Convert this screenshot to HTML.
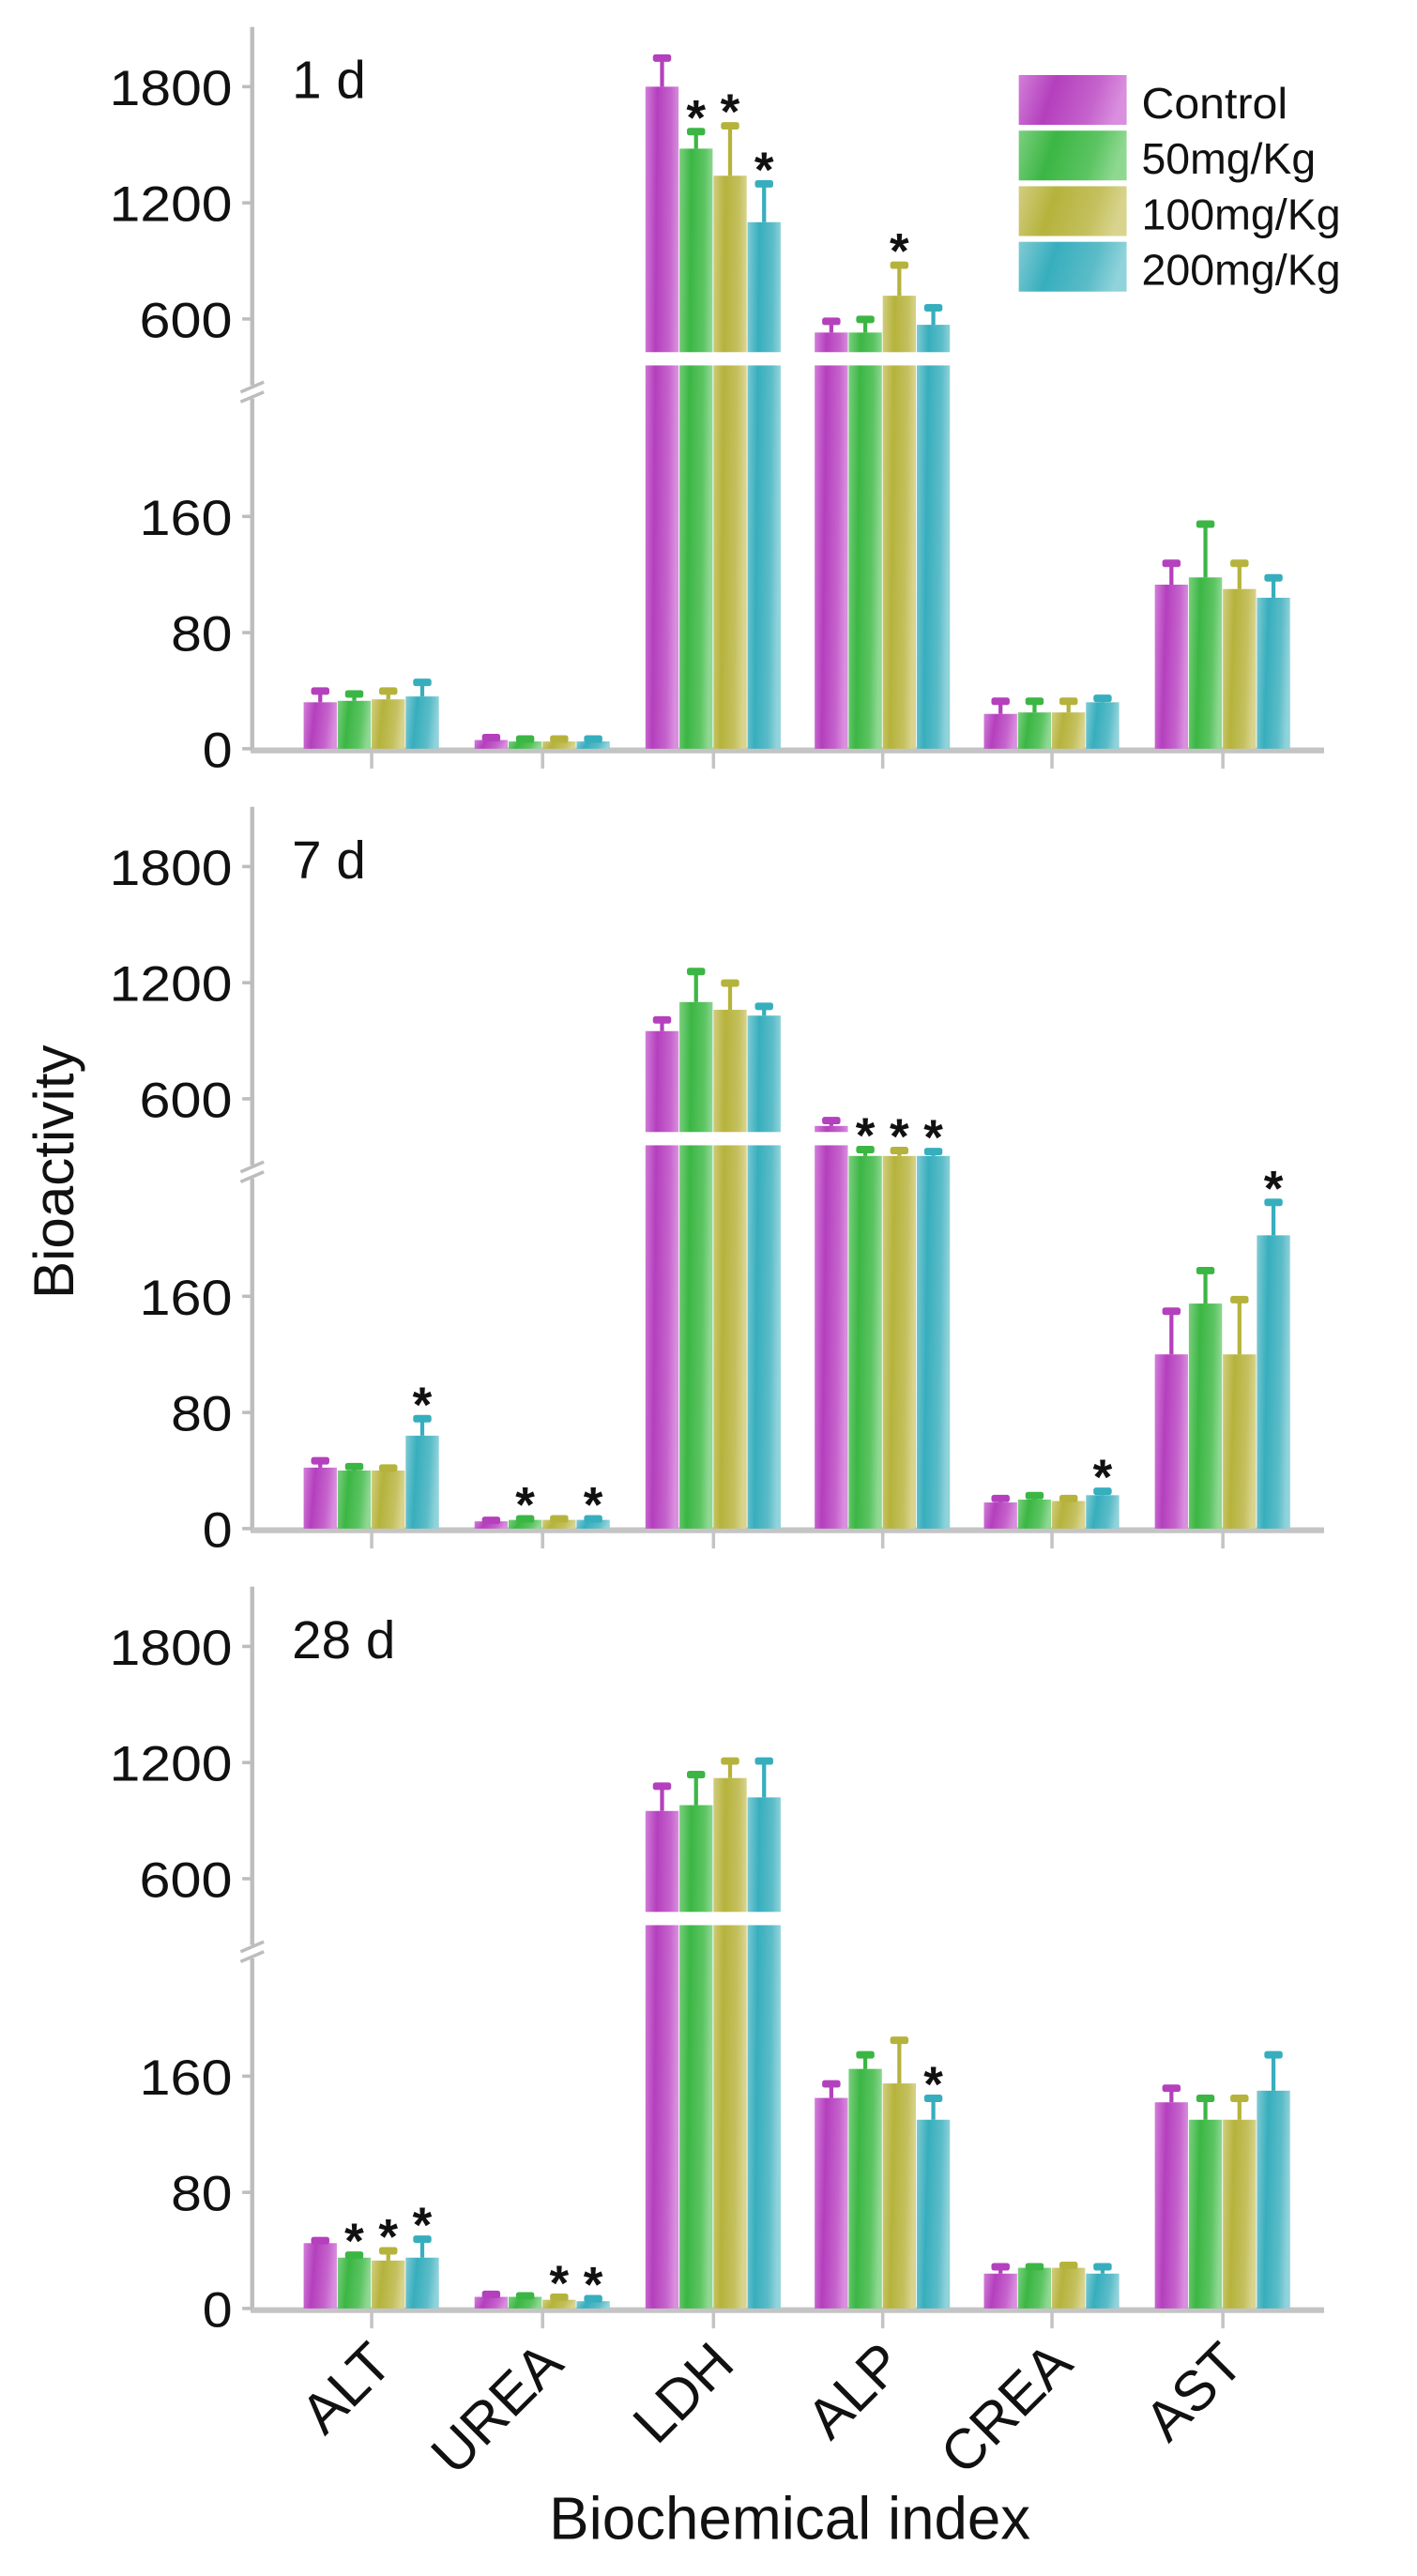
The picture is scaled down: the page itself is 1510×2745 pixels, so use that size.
<!DOCTYPE html>
<html><head><meta charset="utf-8"><style>
html,body{margin:0;padding:0;background:#fff}
svg{display:block}
text{font-family:"Liberation Sans",Arial,sans-serif;fill:#111}
</style></head><body>
<svg id="s" xmlns="http://www.w3.org/2000/svg" width="1510" height="2745" viewBox="0 0 854 1552">
<defs>
<linearGradient id="g0" x1="0" y1="0" x2="1" y2="0.15"><stop offset="0" stop-color="#d27fd9"/><stop offset="0.35" stop-color="#b43fbd"/><stop offset="0.75" stop-color="#c563cc"/><stop offset="1" stop-color="#d98ede"/></linearGradient>
<linearGradient id="g1" x1="0" y1="0" x2="1" y2="0.15"><stop offset="0" stop-color="#7ccf7f"/><stop offset="0.35" stop-color="#3bb644"/><stop offset="0.75" stop-color="#5cc462"/><stop offset="1" stop-color="#8fd892"/></linearGradient>
<linearGradient id="g2" x1="0" y1="0" x2="1" y2="0.15"><stop offset="0" stop-color="#d2cd80"/><stop offset="0.35" stop-color="#b5b33c"/><stop offset="0.75" stop-color="#c4c05e"/><stop offset="1" stop-color="#d8d48e"/></linearGradient>
<linearGradient id="g3" x1="0" y1="0" x2="1" y2="0.15"><stop offset="0" stop-color="#80cbd4"/><stop offset="0.35" stop-color="#37aebd"/><stop offset="0.75" stop-color="#5bbcc8"/><stop offset="1" stop-color="#90d3db"/></linearGradient>
</defs>
<g id="c"></g>
</svg>
<script>
var NS="http://www.w3.org/2000/svg",G=document.getElementById("c");
function el(t,a,txt){var e=document.createElementNS(NS,t);for(var k in a)e.setAttribute(k,a[k]);if(txt!=null)e.textContent=txt;G.appendChild(e);return e;}
var cols=["#b440bd","#3bb644","#b5b33c","#37aebd"];
var centers=[224,327,430,532,634,737];
var data=[
 [[[32,40],[33,38],[34,40],[36,46]],[[6,8],[5,7],[5,7],[5,7]],[[1800,1950],[1480,1570],[1340,1600],[1100,1300]],[[530,590],[530,600],[720,880],[570,660]],[[24,33],[25,33],[25,33],[32,35]],[[113,128],[118,155],[110,128],[104,118]]],
 [[[42,47],[40,43],[40,42],[64,76]],[[5,6],[6,7],[6,7],[6,7]],[[950,1010],[1100,1260],[1060,1200],[1030,1080]],[[460,490],[305,340],[305,335],[305,330]],[[18,21],[20,23],[19,21],[23,26]],[[120,150],[155,178],[120,158],[202,225]]],
 [[[45,47],[35,37],[33,40],[35,48]],[[8,10],[8,9],[6,8],[5,7]],[[950,1080],[980,1140],[1120,1210],[1020,1210]],[[145,155],[165,175],[155,185],[130,145]],[[24,29],[28,29],[28,30],[24,29]],[[142,152],[130,145],[130,145],[150,175]]]
];
var stars=[
 [[2,1],[2,2],[2,3],[3,2]],
 [[0,3],[1,1],[1,3],[3,1],[3,2],[3,3],[4,3],[5,3]],
 [[0,1],[0,2],[0,3],[1,2],[1,3],[3,3]]
];
var labels=["1 d","7 d","28 d"];
for(var p=0;p<3;p++){
 var o=p*470;
 function yl(v){return 451+o-v*70/80;}
 function yu(v){return 192+o-(v-600)*70/600;}
 function yv(v){return v>250?yu(v):yl(v);}
 el("line",{x1:152,y1:16+o,x2:152,y2:232+o,stroke:"#bdbdbd","stroke-width":2.5});
 el("line",{x1:152,y1:240+o,x2:152,y2:452+o,stroke:"#bdbdbd","stroke-width":2.5});
 el("line",{x1:145,y1:236+o,x2:159,y2:230+o,stroke:"#bdbdbd","stroke-width":2});
 el("line",{x1:145,y1:242+o,x2:159,y2:236+o,stroke:"#bdbdbd","stroke-width":2});
 el("line",{x1:151,y1:452+o,x2:798,y2:452+o,stroke:"#c4c4c4","stroke-width":3.5});
 var ticks=[[1800,yu(1800)],[1200,yu(1200)],[600,yu(600)],[160,yl(160)],[80,yl(80)],[0,yl(0)]];
 ticks.forEach(function(t){el("line",{x1:146,y1:t[1],x2:152,y2:t[1],stroke:"#bdbdbd","stroke-width":2});
  el("text",{x:140,y:t[1]+11,"text-anchor":"end","font-size":30,"textLength":t[0]>=1000?74:(t[0]>=100?56:(t[0]>=10?37:18)),"lengthAdjust":"spacingAndGlyphs"},String(t[0]));});
 centers.forEach(function(c){el("line",{x1:c,y1:453+o,x2:c,y2:463+o,stroke:"#c4c4c4","stroke-width":2});});
 el("text",{x:176,y:59+o,"font-size":32},labels[p]);
 for(var g=0;g<6;g++){
  var c=centers[g];
  for(var i=0;i<4;i++){
   var v=data[p][g][i][0],e=data[p][g][i][1];
   var x=c-41+i*20.5,w=20,bx=x+w/2;
   var yt=yv(v),yb=yl(0);
   el("rect",{x:x,y:yt,width:w,height:yb-yt,fill:"url(#g"+i+")"});
   var ye=yv(e);
   el("line",{x1:bx,y1:yt,x2:bx,y2:ye,stroke:cols[i],"stroke-width":2.4});
   el("rect",{x:bx-5.5,y:ye-2,width:11,height:4.5,rx:1.5,fill:cols[i]});
  }
  if(data[p][g].some(function(d){return d[0]>250;})){
   el("rect",{x:c-42,y:212+o,width:84,height:8,fill:"#fff"});
  }
 }
 stars[p].forEach(function(s){var g=s[0],i=s[1];var e=data[p][g][i][1];var bx=centers[g]-41+i*20.5+10;
  el("text",{x:bx,y:yv(e)+2,"text-anchor":"middle","font-size":30,"font-weight":"bold"},"*");});
}
var ln=["Control","50mg/Kg","100mg/Kg","200mg/Kg"];
for(var i=0;i<4;i++){
 el("rect",{x:614,y:45+i*33.5,width:65,height:30,fill:"url(#g"+i+")"});
 el("text",{x:688,y:71+i*33.5,"font-size":26,"textLength":i==0?88:(i==1?105:120),"lengthAdjust":"spacingAndGlyphs"},ln[i]);
}
el("text",{x:0,y:0,"font-size":34,transform:"translate(44,706) rotate(-90)","text-anchor":"middle"},"Bioactivity");
var xl=["ALT","UREA","LDH","ALP","CREA","AST"];
xl.forEach(function(t,k){el("text",{x:0,y:0,"font-size":34,"text-anchor":"end",transform:"translate("+(centers[k]+14)+",1426) rotate(-45)"},t);});
el("text",{x:476,y:1530,"font-size":36,"text-anchor":"middle"},"Biochemical index");
</script>
</body></html>
